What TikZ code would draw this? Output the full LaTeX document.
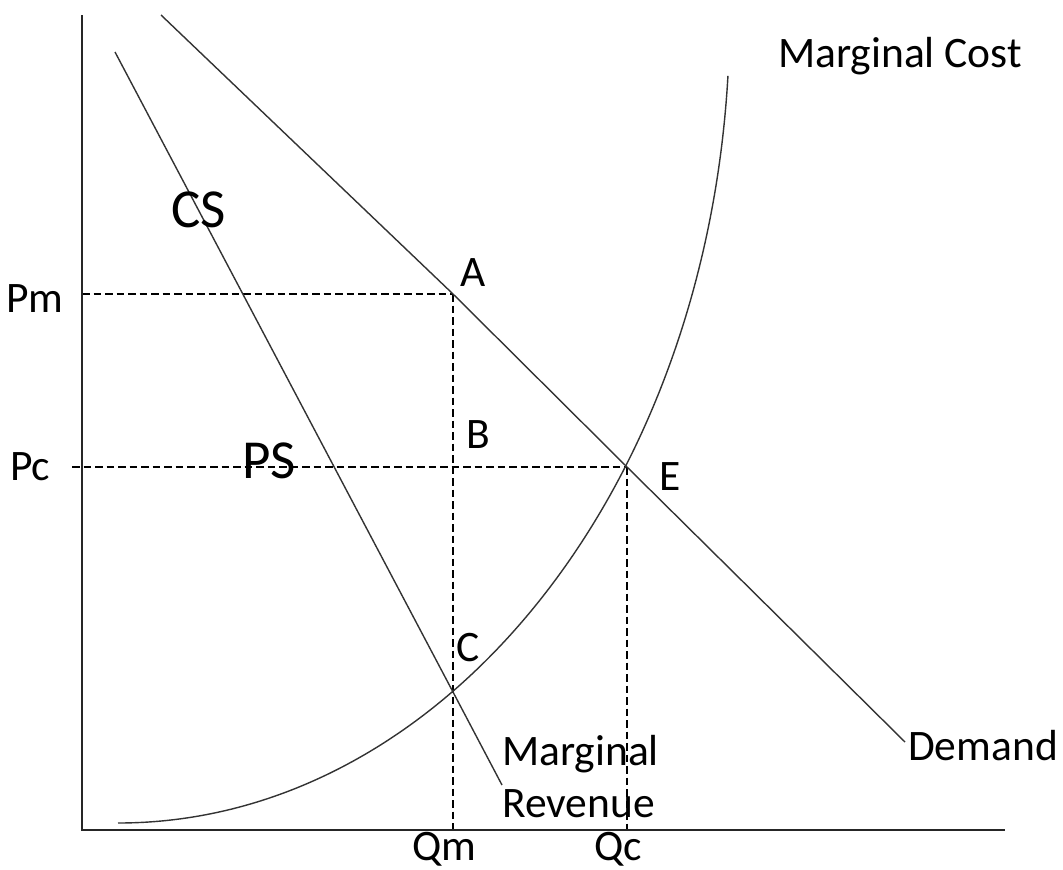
\documentclass[tikz,border=0pt]{standalone}
\usepackage{fontspec}
\setmainfont{Carlito}
\begin{document}
\begin{tikzpicture}[x=1pt,y=-1pt,
  curve/.style={draw=black!80,line width=1.4pt},
  axis/.style={draw=black!85,line width=1.7pt},
  guide/.style={draw=black,line width=2.8pt,dash pattern=on 7.5pt off 4pt},
  lbl/.style={inner sep=0pt,anchor=base west,font=\fontsize{43.5}{50}\selectfont},
  big/.style={inner sep=0pt,anchor=base west,font=\fontsize{55}{62}\selectfont}]
\useasboundingbox (0,0) rectangle (1063,870);
% key coordinates
\coordinate (O) at (82,830);
\coordinate (ytop) at (82,15);
\coordinate (xend) at (1005,830);
\coordinate (A) at (453,294);
\coordinate (E) at (627,467);
\coordinate (C) at (453,692);
\coordinate (PmL) at (82,294);
\coordinate (PcL) at (72,467);
\coordinate (QmB) at (453,830);
\coordinate (QcB) at (627,830);
\coordinate (Dtop) at (161,15);
\coordinate (Dend) at (905,742);
\coordinate (MRtop) at (115,52);
\coordinate (MRend) at (502,785);
\coordinate (MCstart) at (118,823);
% dashed guides
\draw[guide] (PmL) -- (A);
\draw[guide] (A) -- (QmB);
\draw[guide] (PcL) -- (E);
\draw[guide] (E) -- (QcB);
% axes
\draw[axis] (ytop) -- (O) -- (xend);
% demand and marginal revenue
\draw[curve] (Dtop) -- (A) -- (E) -- (Dend);
\draw[curve] (MRtop) -- (C) -- (MRend);
% marginal cost
\draw[curve] (MCstart) arc[start angle=-90,end angle=-4.3,x radius=611.7pt,y radius=807.6pt];
% labels
\node[lbl] (mc) at (778,67) {Marginal Cost};
\node[lbl] (dem) at (908,760) {Demand};
\node[lbl] (mr1) at (502,765) {Marginal};
\node[lbl] (mr2) at (502,817) {Revenue};
\node[lbl] (qm) at (412,860) {Qm};
\node[lbl] (qc) at (594,860) {Qc};
\node[lbl] (la) at (460,286) {A};
\node[lbl] (lb) at (466,448) {B};
\node[lbl] (lc) at (456,661) {C};
\node[lbl] (le) at (659,490) {E};
\node[lbl] (pm) at (6,312) {Pm};
\node[lbl] (pc) at (10,480) {Pc};
\node[big] (cs) at (171,227) {CS};
\node[big] (ps) at (242,478) {PS};
\end{tikzpicture}
\end{document}
